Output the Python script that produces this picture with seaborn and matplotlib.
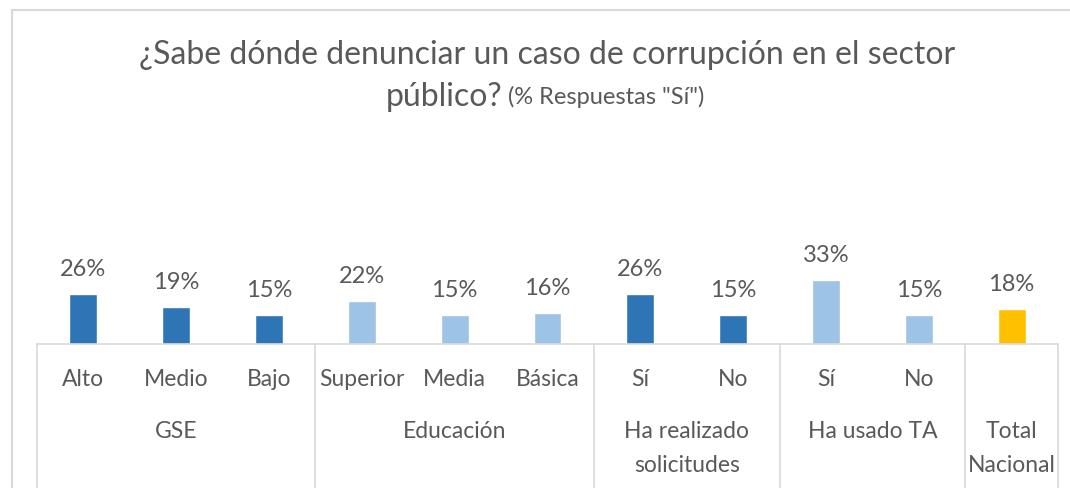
import pandas as pd
import numpy as np
import matplotlib
matplotlib.use('Agg')
import matplotlib.pyplot as plt
import matplotlib.transforms as mtransforms
from matplotlib.lines import Line2D
import seaborn as sns

# datos
categorias = ['Alto', 'Medio', 'Bajo', 'Superior', 'Media', 'Básica', 'Sí', 'No', 'Sí', 'No', '']
grupos = ['GSE', 'Educación', 'Ha realizado\nsolicitudes', 'Ha usado TA', 'Total\nNacional']
grupo_tam = [3, 3, 2, 2, 1]
valores = [26, 19, 15, 22, 15, 16, 26, 15, 33, 15, 18]
colores = ['#2E75B6', '#2E75B6', '#2E75B6',
           '#9DC3E6', '#9DC3E6', '#9DC3E6',
           '#2E75B6', '#2E75B6',
           '#9DC3E6', '#9DC3E6',
           '#FFC000']

gris = '#595959'
linea = '#D9D9D9'

sns.set_style('white')
plt.rcParams['font.family'] = ['Lato', 'DejaVu Sans']

df = pd.DataFrame({'id': [f'c{i}' for i in range(len(valores))],
                   'valor': valores})

fig = plt.figure(figsize=(10.7, 4.88), dpi=100)
ax = fig.add_axes([37/1070, (488-344)/488, (1058-37)/1070, (344-150)/488])

sns.barplot(data=df, x='id', y='valor', hue='id', palette=colores,
            width=0.3, legend=False, ax=ax, saturation=1)

for c in ax.containers:
    ax.bar_label(c, labels=[f'{v:.0f}%' for v in c.datavalues],
                 padding=10, fontsize=17, color=gris)

ax.set_ylim(0, 100)
ax.set_xlim(-0.5, len(valores) - 0.5)
ax.set_yticks([])
ax.set_xticks([])
ax.set_xlabel('')
ax.set_ylabel('')
for s in ['top', 'left', 'right']:
    ax.spines[s].set_visible(False)
ax.spines['bottom'].set_color(linea)
ax.spines['bottom'].set_linewidth(1.2)

trans = mtransforms.blended_transform_factory(ax.transData, fig.transFigure)

# etiquetas de categoria
for i, cat in enumerate(categorias):
    ax.text(i, (488-380)/488, cat, transform=trans, ha='center', va='center',
            fontsize=16.5, color=gris)

# grupos y separadores
inicio = -0.5
seps = [inicio]
for g, n in zip(grupos, grupo_tam):
    centro = inicio + n / 2
    ax.text(centro, (488-421)/488, g, transform=trans, ha='center', va='top',
            fontsize=16.5, color=gris, linespacing=1.75)
    inicio += n
    seps.append(inicio)
for x in seps:
    ax.add_line(Line2D([x, x], [0, (488-344)/488], transform=trans,
                       color=linea, lw=1.2, clip_on=False))

# marco del grafico
fig.add_artist(Line2D([12/1070, 1], [1-10/488, 1-10/488], color=linea, lw=1.5))
fig.add_artist(Line2D([12/1070, 12/1070], [0, 1-10/488], color=linea, lw=1.5))

# titulo
fig.text(547/1070, 1-55/488, '¿Sabe dónde denunciar un caso de corrupción en el sector',
         ha='center', va='center', fontsize=23, color=gris)
t1 = fig.text(0, 1-97/488, 'público?', ha='left', va='center', fontsize=23, color=gris)
t2 = fig.text(0, 1-97/488, ' (% Respuestas "Sí")', ha='left', va='center', fontsize=17, color=gris)
fig.canvas.draw()
r = fig.canvas.get_renderer()
w1 = t1.get_window_extent(r).width
w2 = t2.get_window_extent(r).width
x0 = 545 - (w1 + w2) / 2
t1.set_x(x0 / 1070)
t2.set_x((x0 + w1) / 1070)

fig.savefig('out.png', dpi=100)
